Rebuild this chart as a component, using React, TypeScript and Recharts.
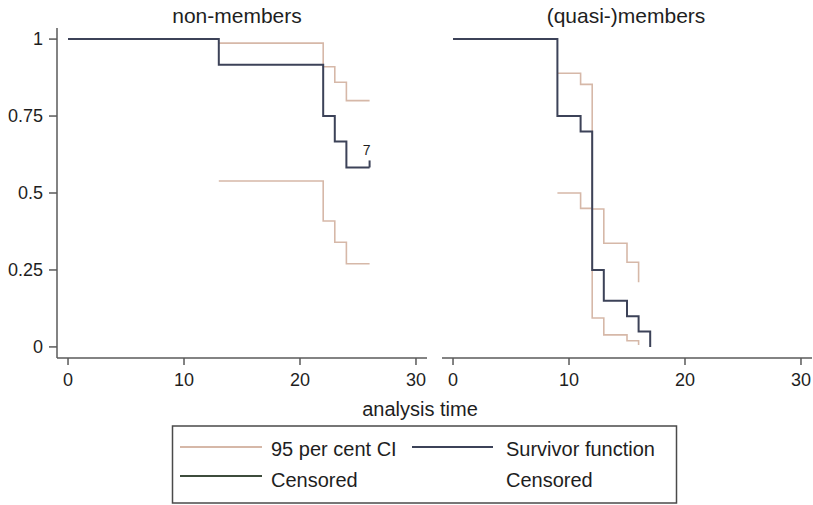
import React from "react";
import { ComposedChart, Line, Scatter, XAxis, YAxis } from "recharts";

// analysis time ticks / survivor ticks
const TIME_TICKS = [0, 10, 20, 30];
const SURV_TICKS = [0, 0.25, 0.5, 0.75, 1];

// non-members
const nmTimes = [0, 13, 22, 23, 24, 26];
const nmSurvivor = [1, 0.917, 0.75, 0.667, 0.583, 0.583];
const nmCiTimes = [13, 22, 23, 24, 26];
const nmUpper = [0.987, 0.91, 0.86, 0.8, 0.8];
const nmLower = [0.539, 0.409, 0.34, 0.27, 0.27];
const nmCensoredTimes = [26];
const nmCensoredValues = [0.583];
const nmCensoredCounts = [7];

// (quasi-)members
const qmTimes = [0, 9, 11, 12, 13, 15, 16, 17];
const qmSurvivor = [1, 0.75, 0.7, 0.25, 0.15, 0.1, 0.05, 0];
const qmCiTimes = [9, 11, 12, 13, 15, 16];
const qmUpper = [0.889, 0.853, 0.448, 0.337, 0.275, 0.21];
const qmLower = [0.5, 0.45, 0.094, 0.039, 0.02, 0.006];

const CI_COLOR = "#d6b8a8";
const SURV_COLOR = "#3c4258";
const CENS_COLOR = "#3e4c3c";
const AXIS_COLOR = "#5a5a5a";
const TEXT_COLOR = "#1e1e1e";
const FONT = "'Liberation Sans', Arial, Helvetica, sans-serif";

const zip = (ts: number[], vs: number[]) => ts.map((t, i) => ({ t, s: vs[i] }));

interface PanelProps {
  left: number;
  width: number;
  margin: { top: number; right: number; bottom: number; left: number };
  showY: boolean;
  survivor: { t: number; s: number }[];
  upper: { t: number; s: number }[];
  lower: { t: number; s: number }[];
  censored: { t: number; s: number; n: number }[];
}

function CensorMark(props: any) {
  const { cx, cy, payload } = props;
  if (cx == null || cy == null) return null;
  return (
    <g>
      <line x1={cx} y1={cy} x2={cx} y2={cy - 7} stroke={SURV_COLOR} strokeWidth={2} />
      <text x={cx - 3} y={cy - 12} fontSize={14} textAnchor="middle" fill={TEXT_COLOR}>
        {payload.n}
      </text>
    </g>
  );
}

function Panel({ left, width, margin, showY, survivor, upper, lower, censored }: PanelProps) {
  return (
    <div style={{ position: "absolute", left, top: 0 }}>
      <ComposedChart width={width} height={400} margin={margin}>
        <XAxis
          dataKey="t"
          type="number"
          domain={[-0.95, 30.95]}
          ticks={TIME_TICKS}
          allowDataOverflow
          height={30}
          tickSize={7}
          tickMargin={8}
          axisLine={{ stroke: AXIS_COLOR, strokeWidth: 1.5 }}
          tickLine={{ stroke: AXIS_COLOR, strokeWidth: 1.5 }}
          tick={{ fontSize: 18, fill: TEXT_COLOR }}
        />
        <YAxis
          type="number"
          domain={[-0.036, 1.036]}
          ticks={SURV_TICKS}
          allowDataOverflow
          width={40}
          hide={!showY}
          tickSize={8}
          tickMargin={6}
          tickFormatter={(v: number) => String(v)}
          axisLine={{ stroke: AXIS_COLOR, strokeWidth: 1.5 }}
          tickLine={{ stroke: AXIS_COLOR, strokeWidth: 1.5 }}
          tick={{ fontSize: 18, fill: TEXT_COLOR }}
        />
        <Line data={upper} dataKey="s" type="stepAfter" stroke={CI_COLOR} strokeWidth={1.6} dot={false} isAnimationActive={false} />
        <Line data={lower} dataKey="s" type="stepAfter" stroke={CI_COLOR} strokeWidth={1.6} dot={false} isAnimationActive={false} />
        <Line data={survivor} dataKey="s" type="stepAfter" stroke={SURV_COLOR} strokeWidth={2} dot={false} isAnimationActive={false} />
        {censored.length > 0 && (
          <Scatter data={censored} dataKey="s" shape={<CensorMark />} isAnimationActive={false} />
        )}
      </ComposedChart>
    </div>
  );
}

export default function App() {
  const nmCens = nmCensoredTimes.map((t, i) => ({ t, s: nmCensoredValues[i], n: nmCensoredCounts[i] }));
  return (
    <div
      style={{
        position: "absolute",
        left: 0,
        top: 0,
        width: 813,
        height: 505,
        background: "#fff",
        fontFamily: FONT,
        overflow: "hidden",
      }}
    >
      <Panel
        left={0}
        width={440}
        margin={{ top: 28, right: 13, bottom: 12, left: 17 }}
        showY
        survivor={zip(nmTimes, nmSurvivor)}
        upper={zip(nmCiTimes, nmUpper)}
        lower={zip(nmCiTimes, nmLower)}
        censored={nmCens}
      />
      <Panel
        left={430}
        width={383}
        margin={{ top: 28, right: 1, bottom: 12, left: 12 }}
        showY={false}
        survivor={zip(qmTimes, qmSurvivor)}
        upper={zip(qmCiTimes, qmUpper)}
        lower={zip(qmCiTimes, qmLower)}
        censored={[]}
      />
      <svg
        width={813}
        height={505}
        style={{ position: "absolute", left: 0, top: 0, pointerEvents: "none" }}
        fontFamily={FONT}
      >
        <text x={237} y={23} fontSize={21} textAnchor="middle" fill={TEXT_COLOR}>
          non-members
        </text>
        <text x={626} y={23} fontSize={21} textAnchor="middle" fill={TEXT_COLOR}>
          (quasi-)members
        </text>
        <text x={420} y={416} fontSize={20} textAnchor="middle" fill={TEXT_COLOR}>
          analysis time
        </text>
        <rect x={172.5} y={426} width={504} height={77} fill="none" stroke="#4a4a4a" strokeWidth={1.5} />
        <line x1={180} y1={447} x2={262} y2={447} stroke={CI_COLOR} strokeWidth={2} />
        <text x={271} y={455.5} fontSize={20} fill={TEXT_COLOR}>
          95 per cent CI
        </text>
        <line x1={412} y1={447} x2={493} y2={447} stroke={SURV_COLOR} strokeWidth={2} />
        <text x={506} y={455.5} fontSize={20} fill={TEXT_COLOR}>
          Survivor function
        </text>
        <line x1={180} y1={476} x2={262} y2={476} stroke={CENS_COLOR} strokeWidth={2.2} />
        <text x={271} y={487} fontSize={20} fill={TEXT_COLOR}>
          Censored
        </text>
        <text x={506} y={487} fontSize={20} fill={TEXT_COLOR}>
          Censored
        </text>
      </svg>
    </div>
  );
}
